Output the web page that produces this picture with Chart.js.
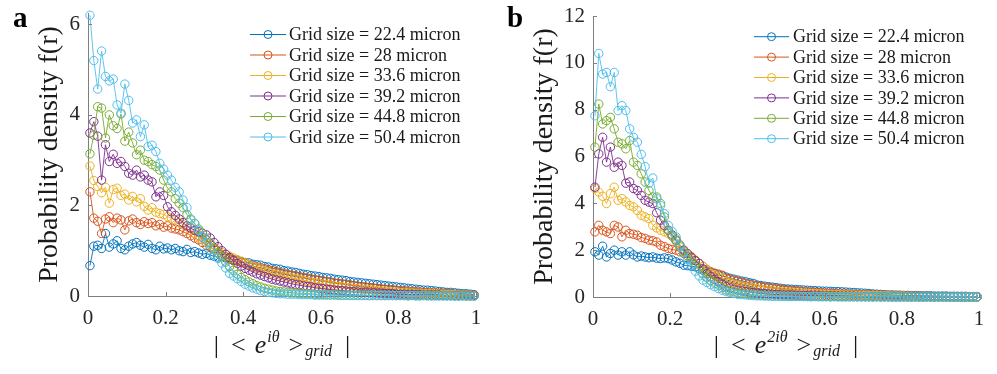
<!DOCTYPE html>
<html><head><meta charset="utf-8">
<script src="https://cdn.jsdelivr.net/npm/chart.js@4"></script>
<style>
html,body{margin:0;padding:0;background:#fff;}
#wrap{position:relative;width:997px;height:374px;overflow:hidden;}
.pane{position:absolute;top:0;width:497px;height:374px;}
</style></head><body>
<div id="wrap">
<div class="pane" style="left:0"><canvas id="ca" width="497" height="374"></canvas></div>
<div class="pane" style="left:500px"><canvas id="cb" width="497" height="374"></canvas></div>
</div>
<script>
// ---- data ----
const xBins = [0.005,0.015,0.025,0.035,0.045,0.055,0.065,0.075,0.085,0.095,
0.105,0.115,0.125,0.135,0.145,0.155,0.165,0.175,0.185,0.195,
0.205,0.215,0.225,0.235,0.245,0.255,0.265,0.275,0.285,0.295,
0.305,0.315,0.325,0.335,0.345,0.355,0.365,0.375,0.385,0.395,
0.405,0.415,0.425,0.435,0.445,0.455,0.465,0.475,0.485,0.495,
0.505,0.515,0.525,0.535,0.545,0.555,0.565,0.575,0.585,0.595,
0.605,0.615,0.625,0.635,0.645,0.655,0.665,0.675,0.685,0.695,
0.705,0.715,0.725,0.735,0.745,0.755,0.765,0.775,0.785,0.795,
0.805,0.815,0.825,0.835,0.845,0.855,0.865,0.875,0.885,0.895,
0.905,0.915,0.925,0.935,0.945,0.955,0.965,0.975,0.985,0.995];

const seriesLabels = ['Grid size = 22.4 micron','Grid size = 28 micron','Grid size = 33.6 micron',
  'Grid size = 39.2 micron','Grid size = 44.8 micron','Grid size = 50.4 micron'];
const seriesColors = ['#0072BD','#D95319','#EDB120','#7E2F8E','#77AC30','#4DBEEE'];

const xTicks = [0,0.2,0.4,0.6,0.8,1];
const xTickLabels = ['0','0.2','0.4','0.6','0.8','1'];
const yTicksA = [0,2,4,6];
const yTickLabelsA = ['0','2','4','6'];
const yTicksB = [0,2,4,6,8,10,12];
const yTickLabelsB = ['0','2','4','6','8','10','12'];

// panel a: |<e^{i theta}>_grid|
const aBlue = [0.67,1.10,1.12,1.05,1.38,1.08,1.15,1.22,1.05,1.02,
1.10,1.15,1.18,1.12,1.08,1.14,1.05,1.02,1.10,1.04,
1.06,1.02,1.05,1.00,0.98,1.03,0.96,0.98,0.95,0.92,
0.94,0.90,0.88,0.86,0.87,0.84,0.82,0.80,0.79,0.76,
0.74,0.73,0.70,0.69,0.68,0.65,0.64,0.61,0.60,0.59,
0.56,0.55,0.53,0.52,0.50,0.48,0.47,0.45,0.44,0.43,
0.41,0.40,0.39,0.37,0.36,0.35,0.34,0.32,0.31,0.30,
0.29,0.28,0.27,0.26,0.25,0.24,0.23,0.22,0.21,0.20,
0.19,0.18,0.17,0.16,0.15,0.14,0.13,0.13,0.12,0.11,
0.10,0.09,0.08,0.08,0.07,0.06,0.05,0.05,0.04,0.03];
const aOrange = [2.30,1.72,1.65,1.38,1.70,1.75,1.62,1.72,1.68,1.46,
1.66,1.70,1.62,1.58,1.64,1.60,1.62,1.55,1.58,1.52,
1.55,1.50,1.48,1.46,1.42,1.38,1.33,1.28,1.24,1.18,
1.12,1.08,1.02,0.95,0.90,0.86,0.82,0.80,0.77,0.74,
0.72,0.69,0.66,0.64,0.62,0.60,0.58,0.56,0.54,0.52,
0.50,0.48,0.46,0.45,0.43,0.41,0.40,0.38,0.36,0.35,
0.34,0.32,0.31,0.29,0.28,0.27,0.26,0.25,0.23,0.22,
0.21,0.20,0.19,0.18,0.17,0.16,0.15,0.15,0.14,0.13,
0.12,0.12,0.11,0.10,0.10,0.09,0.08,0.08,0.07,0.07,
0.06,0.06,0.05,0.05,0.04,0.04,0.03,0.03,0.03,0.02];
const aYellow = [2.87,2.55,2.42,2.28,2.40,2.05,2.35,2.38,2.22,2.25,
2.12,2.20,2.08,2.15,1.98,1.90,1.95,1.85,1.82,1.80,
1.75,1.72,1.68,1.62,1.58,1.55,1.45,1.38,1.31,1.25,
1.18,1.13,1.07,1.01,0.96,0.92,0.88,0.84,0.80,0.77,
0.73,0.69,0.65,0.62,0.59,0.56,0.53,0.50,0.48,0.46,
0.44,0.42,0.40,0.38,0.36,0.34,0.32,0.31,0.29,0.28,
0.26,0.25,0.24,0.22,0.21,0.20,0.19,0.18,0.17,0.16,
0.15,0.14,0.14,0.13,0.12,0.11,0.11,0.10,0.09,0.09,
0.08,0.08,0.07,0.07,0.06,0.06,0.05,0.05,0.05,0.04,
0.04,0.04,0.03,0.03,0.03,0.02,0.02,0.02,0.02,0.01];
const aPurple = [3.60,3.85,3.53,2.56,3.34,2.97,3.13,2.93,2.97,2.86,
2.71,2.67,2.78,2.63,2.67,2.56,2.52,2.19,2.30,2.22,
1.97,1.86,1.78,1.70,1.62,1.55,1.50,1.45,1.42,1.39,
1.35,1.28,1.18,1.09,1.00,0.92,0.85,0.78,0.72,0.66,
0.61,0.57,0.53,0.49,0.46,0.43,0.40,0.37,0.35,0.33,
0.31,0.29,0.27,0.25,0.24,0.22,0.21,0.20,0.18,0.17,
0.16,0.15,0.14,0.13,0.12,0.12,0.11,0.10,0.10,0.09,
0.08,0.08,0.07,0.07,0.06,0.06,0.05,0.05,0.05,0.04,
0.04,0.04,0.03,0.03,0.03,0.03,0.02,0.02,0.02,0.02,
0.02,0.01,0.01,0.01,0.01,0.01,0.01,0.01,0.01,0.01];
const aGreen = [3.14,3.55,4.18,4.15,3.49,4.00,3.76,3.70,4.02,3.42,
3.62,3.38,3.12,3.22,3.00,2.97,2.90,2.86,2.78,2.56,
2.38,2.30,2.15,2.05,1.95,1.80,1.70,1.60,1.48,1.38,
1.25,1.17,1.05,0.95,0.87,0.75,0.65,0.57,0.48,0.41,
0.36,0.31,0.27,0.23,0.20,0.17,0.15,0.13,0.11,0.10,
0.09,0.08,0.07,0.07,0.06,0.06,0.05,0.05,0.04,0.04,
0.04,0.03,0.03,0.03,0.03,0.02,0.02,0.02,0.02,0.02,
0.02,0.02,0.01,0.02,0.01,0.01,0.01,0.01,0.01,0.01,
0.01,0.01,0.01,0.01,0.01,0.01,0.01,0.01,0.01,0.01,
0.01,0.01,0.01,0.01,0.00,0.00,0.01,0.00,0.00,0.00];
const aLightblue = [6.20,5.20,4.57,5.41,4.85,4.75,4.79,4.22,4.04,4.68,
4.32,3.82,3.89,3.52,3.78,3.30,3.33,3.19,2.93,2.80,
2.67,2.56,2.40,2.30,2.12,1.95,1.68,1.60,1.45,1.31,
1.18,1.02,0.92,0.83,0.73,0.62,0.50,0.44,0.38,0.32,
0.26,0.22,0.18,0.15,0.12,0.10,0.08,0.07,0.06,0.05,
0.05,0.04,0.04,0.04,0.03,0.03,0.03,0.03,0.02,0.02,
0.02,0.02,0.02,0.02,0.01,0.01,0.02,0.01,0.01,0.01,
0.01,0.01,0.01,0.01,0.01,0.01,0.01,0.01,0.01,0.01,
0.01,0.01,0.00,0.01,0.00,0.00,0.01,0.00,0.00,0.00,
0.00,0.00,0.00,0.00,0.00,0.00,0.00,0.00,0.00,0.00];

// panel b: |<e^{2i theta}>_grid|
const bBlue = [1.93,1.79,2.17,1.71,1.86,2.00,1.79,1.93,1.79,1.93,
1.80,1.71,1.75,1.71,1.68,1.71,1.66,1.64,1.67,1.64,
1.58,1.50,1.44,1.36,1.34,1.31,1.29,1.22,1.15,1.10,
1.05,1.00,0.94,0.90,0.85,0.80,0.76,0.72,0.68,0.65,
0.61,0.58,0.51,0.49,0.46,0.44,0.42,0.40,0.37,0.35,
0.34,0.33,0.32,0.31,0.30,0.29,0.28,0.27,0.26,0.25,
0.25,0.24,0.23,0.23,0.22,0.21,0.20,0.19,0.18,0.17,
0.16,0.15,0.13,0.12,0.11,0.10,0.09,0.09,0.08,0.08,
0.07,0.07,0.06,0.06,0.06,0.05,0.05,0.05,0.04,0.04,
0.04,0.04,0.03,0.03,0.03,0.03,0.03,0.02,0.02,0.02];
const bOrange = [2.78,3.06,2.85,2.78,2.71,3.06,2.99,2.57,2.85,2.71,
2.68,2.64,2.54,2.50,2.43,2.40,2.35,2.21,2.15,2.07,
2.03,2.00,1.93,1.86,1.75,1.65,1.55,1.43,1.30,1.18,
1.08,1.02,0.98,0.93,0.80,0.76,0.72,0.68,0.63,0.58,
0.55,0.51,0.48,0.45,0.42,0.40,0.37,0.35,0.33,0.31,
0.29,0.28,0.26,0.25,0.23,0.22,0.21,0.20,0.19,0.18,
0.17,0.16,0.15,0.14,0.13,0.13,0.12,0.11,0.11,0.10,
0.09,0.09,0.08,0.08,0.07,0.07,0.06,0.06,0.05,0.05,
0.05,0.04,0.04,0.04,0.03,0.03,0.03,0.03,0.02,0.02,
0.02,0.02,0.02,0.02,0.01,0.01,0.01,0.01,0.01,0.01];
const bYellow = [4.63,4.48,4.30,3.99,4.41,4.69,4.13,4.20,4.06,3.91,
3.85,3.70,3.49,3.42,3.35,3.06,2.95,2.85,2.78,2.71,
2.60,2.50,2.25,2.00,1.85,1.72,1.58,1.43,1.30,1.15,
1.00,0.94,0.88,0.80,0.65,0.60,0.55,0.51,0.47,0.44,
0.42,0.38,0.35,0.32,0.30,0.28,0.26,0.24,0.23,0.22,
0.21,0.20,0.18,0.17,0.16,0.15,0.14,0.13,0.13,0.12,
0.11,0.11,0.10,0.10,0.09,0.09,0.08,0.08,0.07,0.07,
0.07,0.06,0.06,0.06,0.05,0.05,0.05,0.04,0.04,0.04,
0.04,0.03,0.03,0.03,0.03,0.03,0.02,0.02,0.02,0.02,
0.02,0.02,0.01,0.01,0.01,0.01,0.01,0.01,0.01,0.01];
const bPurple = [4.69,6.11,6.82,5.76,6.40,5.54,5.76,5.62,4.86,4.91,
4.63,4.55,4.34,4.13,4.05,3.99,3.60,3.28,3.05,2.85,
2.65,2.43,2.20,2.00,1.85,1.70,1.55,1.43,1.20,1.00,
0.86,0.75,0.65,0.55,0.44,0.38,0.33,0.29,0.26,0.23,
0.21,0.19,0.17,0.15,0.14,0.13,0.12,0.11,0.10,0.09,
0.09,0.08,0.07,0.07,0.06,0.06,0.05,0.05,0.05,0.04,
0.04,0.04,0.04,0.03,0.03,0.03,0.03,0.03,0.02,0.02,
0.02,0.02,0.02,0.02,0.01,0.02,0.01,0.01,0.01,0.01,
0.01,0.01,0.01,0.01,0.01,0.01,0.01,0.01,0.01,0.01,
0.01,0.01,0.01,0.00,0.01,0.00,0.00,0.00,0.00,0.00];
const bGreen = [6.40,8.24,7.39,7.53,7.67,7.18,6.61,6.54,6.33,6.68,
5.76,5.62,5.26,4.91,4.55,4.27,4.27,3.99,3.42,2.85,
2.60,2.40,2.14,1.95,1.75,1.57,1.40,1.20,1.00,0.85,
0.70,0.58,0.50,0.40,0.30,0.26,0.22,0.19,0.16,0.14,
0.12,0.10,0.09,0.08,0.07,0.06,0.05,0.05,0.04,0.04,
0.04,0.03,0.03,0.03,0.03,0.02,0.02,0.02,0.02,0.02,
0.02,0.01,0.02,0.01,0.01,0.01,0.01,0.01,0.01,0.01,
0.01,0.01,0.01,0.01,0.01,0.01,0.01,0.01,0.01,0.01,
0.01,0.01,0.00,0.01,0.00,0.00,0.01,0.00,0.00,0.00,
0.00,0.00,0.00,0.00,0.00,0.00,0.00,0.00,0.00,0.00];
const bLightblue = [7.74,10.40,9.52,9.59,8.98,9.59,7.96,8.17,7.96,7.18,
6.82,6.61,6.09,5.57,4.86,5.08,4.20,3.90,3.56,3.06,
2.80,2.57,2.20,1.90,1.60,1.35,1.10,0.90,0.72,0.62,
0.52,0.44,0.36,0.29,0.23,0.19,0.15,0.12,0.10,0.09,
0.07,0.06,0.05,0.05,0.04,0.04,0.03,0.03,0.03,0.03,
0.02,0.02,0.02,0.02,0.02,0.02,0.01,0.02,0.01,0.01,
0.01,0.01,0.01,0.01,0.01,0.01,0.01,0.01,0.01,0.01,
0.01,0.01,0.00,0.01,0.00,0.00,0.01,0.00,0.00,0.00,
0.00,0.00,0.00,0.00,0.00,0.00,0.00,0.00,0.00,0.00,
0.00,0.00,0.00,0.00,0.00,0.00,0.00,0.00,0.00,0.00];

// ---- styling ----
const SERIF = '"Liberation Serif", "Times New Roman", serif';
const AXIS_COLOR = '#7f7f7f';
const TICK_COLOR = '#262626';
const TEXT_COLOR = '#1a1a1a';

function buildChart(canvasId, series, cfg) {
  const datasets = series.map((arr, i) => ({
    label: seriesLabels[i],
    data: xBins.map((x, k) => ({x: x, y: arr[k]})),
    borderColor: seriesColors[i],
    backgroundColor: 'rgba(0,0,0,0)',
    pointBorderColor: seriesColors[i],
    pointBackgroundColor: 'rgba(0,0,0,0)',
    borderWidth: 0.9,
    pointRadius: 4.2,
    pointBorderWidth: 1,
    pointHoverRadius: 4.2,
    tension: 0,
    fill: false,
    clip: false,
    order: series.length - i
  }));

  const decorPlugin = {
    id: 'decor' + canvasId,
    afterDraw(chart) {
      const ctx = chart.ctx;
      const xs = chart.scales.x, ys = chart.scales.y;
      const ca = chart.chartArea;
      ctx.save();
      // inward tick marks
      ctx.strokeStyle = AXIS_COLOR;
      ctx.lineWidth = 1;
      ctx.beginPath();
      xTicks.forEach(v => {
        const px = Math.round(xs.getPixelForValue(v)) + 0.5;
        ctx.moveTo(px, ca.bottom); ctx.lineTo(px, ca.bottom - 4);
      });
      cfg.yTicks.forEach(v => {
        const py = Math.round(ys.getPixelForValue(v)) + 0.5;
        ctx.moveTo(ca.left, py); ctx.lineTo(ca.left + 4, py);
      });
      ctx.stroke();

      // legend
      ctx.font = '18px ' + SERIF;
      ctx.textBaseline = 'middle';
      ctx.textAlign = 'left';
      const L = cfg.legend;
      chart.data.datasets.forEach((ds, i) => {
        const y = L.y0 + i * L.dy;
        ctx.strokeStyle = ds.borderColor;
        ctx.lineWidth = 1;
        ctx.beginPath(); ctx.moveTo(L.x0, y); ctx.lineTo(L.x1, y); ctx.stroke();
        ctx.beginPath(); ctx.arc((L.x0 + L.x1) / 2, y, 4, 0, Math.PI * 2); ctx.stroke();
        ctx.fillStyle = TEXT_COLOR;
        ctx.fillText(ds.label, L.tx, y + 1);
      });

      // panel letter
      ctx.font = 'bold 29px ' + SERIF;
      ctx.textBaseline = 'alphabetic';
      ctx.fillStyle = '#000';
      ctx.fillText(cfg.letter, cfg.letterX, 27);

      // x-axis title: | < e^{sup} >_{grid} |
      const mainF = '26px ' + SERIF, itF = 'italic 26px ' + SERIF, smallF = 'italic 16px ' + SERIF;
      const base = 353;
      const pieces = [
        {t: '|', f: mainF, dy: 0, gap: 12},
        {t: '<', f: mainF, dy: 0, gap: 9},
        {t: 'e', f: itF, dy: 0, gap: 1},
        {t: cfg.sup, f: smallF, dy: -11, gap: 9},
        {t: '>', f: mainF, dy: 0, gap: 2},
        {t: 'grid', f: smallF, dy: 3, gap: 13},
        {t: '|', f: mainF, dy: 0, gap: 0}
      ];
      let total = 0;
      pieces.forEach(p => { ctx.font = p.f; p.w = ctx.measureText(p.t).width; total += p.w + p.gap; });
      let x = (ca.left + ca.right) / 2 - total / 2;
      ctx.fillStyle = TEXT_COLOR;
      pieces.forEach(p => { ctx.font = p.f; ctx.fillText(p.t, x, base + p.dy); x += p.w + p.gap; });
      ctx.restore();
    }
  };

  const G = cfg.geom;
  return new Chart(document.getElementById(canvasId), {
    type: 'line',
    data: {datasets},
    options: {
      responsive: false,
      animation: false,
      events: [],
      layout: {padding: {left: G.pl, right: 497 - G.right, top: G.top, bottom: 0}},
      plugins: {legend: {display: false}, tooltip: {enabled: false}},
      scales: {
        x: {
          type: 'linear', min: 0, max: 1,
          grid: {display: false, drawTicks: false},
          border: {display: true, color: AXIS_COLOR, width: 1},
          ticks: {
            padding: 10, color: TICK_COLOR, maxRotation: 0, autoSkip: false,
            font: {family: SERIF, size: 21},
            callback: (v) => { const k = xTicks.indexOf(v); return k >= 0 ? xTickLabels[k] : ''; }
          },
          afterBuildTicks: (s) => { s.ticks = xTicks.map(v => ({value: v})); },
          afterFit: (s) => { s.height = 374 - G.bottom; s.paddingLeft = 0; s.paddingRight = 0; }
        },
        y: {
          type: 'linear', min: 0, max: cfg.yMax,
          grid: {display: false, drawTicks: false},
          border: {display: true, color: AXIS_COLOR, width: 1},
          ticks: {
            padding: 8, color: TICK_COLOR,
            font: {family: SERIF, size: 21},
            callback: (v) => { const k = cfg.yTicks.indexOf(v); return k >= 0 ? cfg.yTickLabels[k] : ''; }
          },
          title: {
            display: true, text: 'Probability density f(r)', color: TEXT_COLOR,
            font: {family: SERIF, size: 28}, padding: {top: G.tpad, bottom: 0}
          },
          afterBuildTicks: (s) => { s.ticks = cfg.yTicks.map(v => ({value: v})); },
          afterFit: (s) => { s.width = G.left - G.pl; s.paddingTop = 0; s.paddingBottom = 0; }
        }
      }
    },
    plugins: [decorPlugin]
  });
}

buildChart('ca', [aBlue, aOrange, aYellow, aPurple, aGreen, aLightblue], {
  yMax: 6.25, yTicks: yTicksA, yTickLabels: yTickLabelsA,
  geom: {pl: 20, left: 88, right: 476, top: 13, bottom: 296, tpad: 13},
  legend: {x0: 250, x1: 286, tx: 289, y0: 34.5, dy: 20.5},
  letter: 'a', letterX: 13, sup: 'iθ'
});
buildChart('cb', [bBlue, bOrange, bYellow, bPurple, bGreen, bLightblue], {
  yMax: 12, yTicks: yTicksB, yTickLabels: yTickLabelsB,
  geom: {pl: 20, left: 93, right: 479, top: 16, bottom: 297, tpad: 8},
  legend: {x0: 254, x1: 289, tx: 293, y0: 36.7, dy: 20.4},
  letter: 'b', letterX: 7, sup: '2iθ'
});
</script>
</body></html>
